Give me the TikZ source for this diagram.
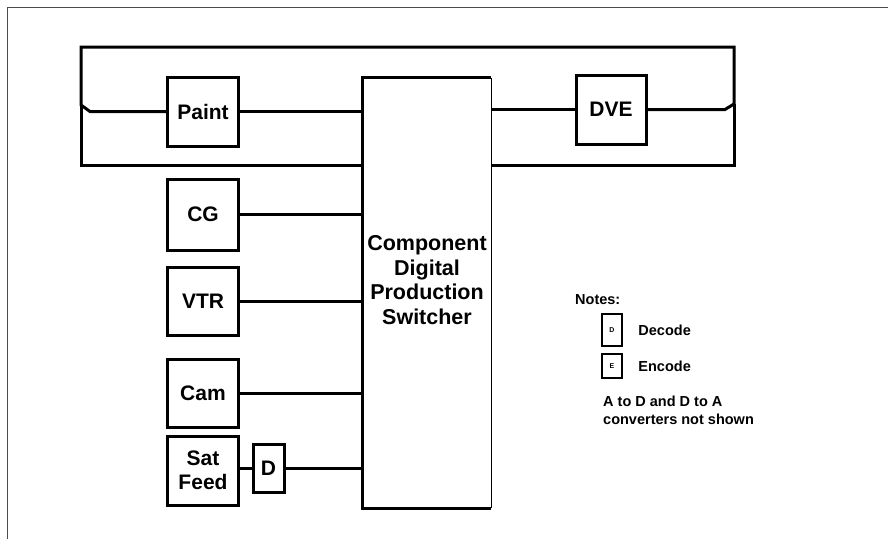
\documentclass[tikz,border=0pt]{standalone}
\usepackage{fontspec}
\setmainfont{Liberation Sans}
\usetikzlibrary{positioning}

\tikzset{
  unit/.style={draw, line width=3pt, minimum width=71pt, minimum height=69pt,
               inner sep=0pt, font=\bfseries\fontsize{21}{24}\selectfont, align=center},
  wire/.style={line width=3pt},
  legendbox/.style={draw, line width=2.5pt, minimum width=20pt, inner sep=0pt,
                    font=\bfseries\fontsize{7}{8}\selectfont},
  legendtext/.style={font=\bfseries\fontsize{14.5}{18}\selectfont, inner sep=0pt, anchor=west}
}

\begin{document}
\begin{tikzpicture}[x=1pt, y=-1pt]
        \useasboundingbox (0,0) rectangle (888,539);
        % Page frame
        \draw[line width=1.5pt, black!70] (888,7.5) -- (7.5,7.5) -- (7.5,539);

        % Switcher
        \node[minimum width=128pt, minimum height=430pt, inner sep=0pt] (sw) at (427,293) {};
        \draw[wire] (sw.north east) -- (sw.north west) -- (sw.south west) -- (sw.south east);
        \draw[line width=1.2pt] (sw.north east) -- (sw.south east);
        \node[font=\bfseries\fontsize{21.5}{24.5}\selectfont, align=center] (swlabel) at (427,280)
             {Component\\Digital\\Production\\Switcher};

        % Sources
        \node[unit] (paint) at (203,111.5) {Paint};
        \node[unit, minimum width=70pt] (dve) at (611,109.5) {DVE};
        \node[unit, minimum height=71pt] (cg) at (203,214.5) {CG};
        \node[unit, minimum height=68pt] (vtr) at (203,301) {VTR};
        \node[unit, minimum height=68pt] (cam) at (203,393) {Cam};
        \node[unit] (sat) at (203,470.5) {Sat\\Feed};
        \node[unit, minimum width=31pt, minimum height=48pt] (dec) at (268.5,468) {D};

        % Loop round the switcher
        \coordinate (lk) at (81,105);
        \coordinate (rk) at (734,104);
        \draw[wire] (paint.west) -- (90,111.5) -- (lk) -- (81,47) -- (734,47) -- (rk) -- (725,109.5) -- (dve.east);
        \draw[wire] (lk) -- (81,165) -- (sw.west |- 0,165);
        \draw[wire] (rk) -- (734,165) -- (sw.east |- 0,165);
        \draw[wire] (paint.east) -- (paint.east -| sw.west);
        \draw[wire] (dve.west) -- (dve.west -| sw.east);

        % Inputs
        \draw[wire] (cg.east) -- (cg.east -| sw.west);
        \draw[wire] (vtr.east) -- (vtr.east -| sw.west);
        \draw[wire] (cam.east) -- (cam.east -| sw.west);
        \draw[wire] (sat.east |- dec.west) -- (dec.west);
        \draw[wire] (dec.east) -- (dec.east -| sw.west);

        % Notes
        \node[legendtext] (notes) at (575,300) {Notes:};
        \node[legendbox, minimum height=32pt] (keyd) at (612,330) {D};
        \node[legendtext, right=15pt of keyd.east, anchor=west] (keydtext) {Decode};
        \node[legendbox, minimum height=24pt] (keye) at (612,366) {E};
        \node[legendtext, right=15pt of keye.east, anchor=west] (keyetext) {Encode};
        \node[legendtext, anchor=north west, align=left] (keynote) at (603,396)
             {A to D and D to A\\converters not shown};
\end{tikzpicture}
\end{document}
